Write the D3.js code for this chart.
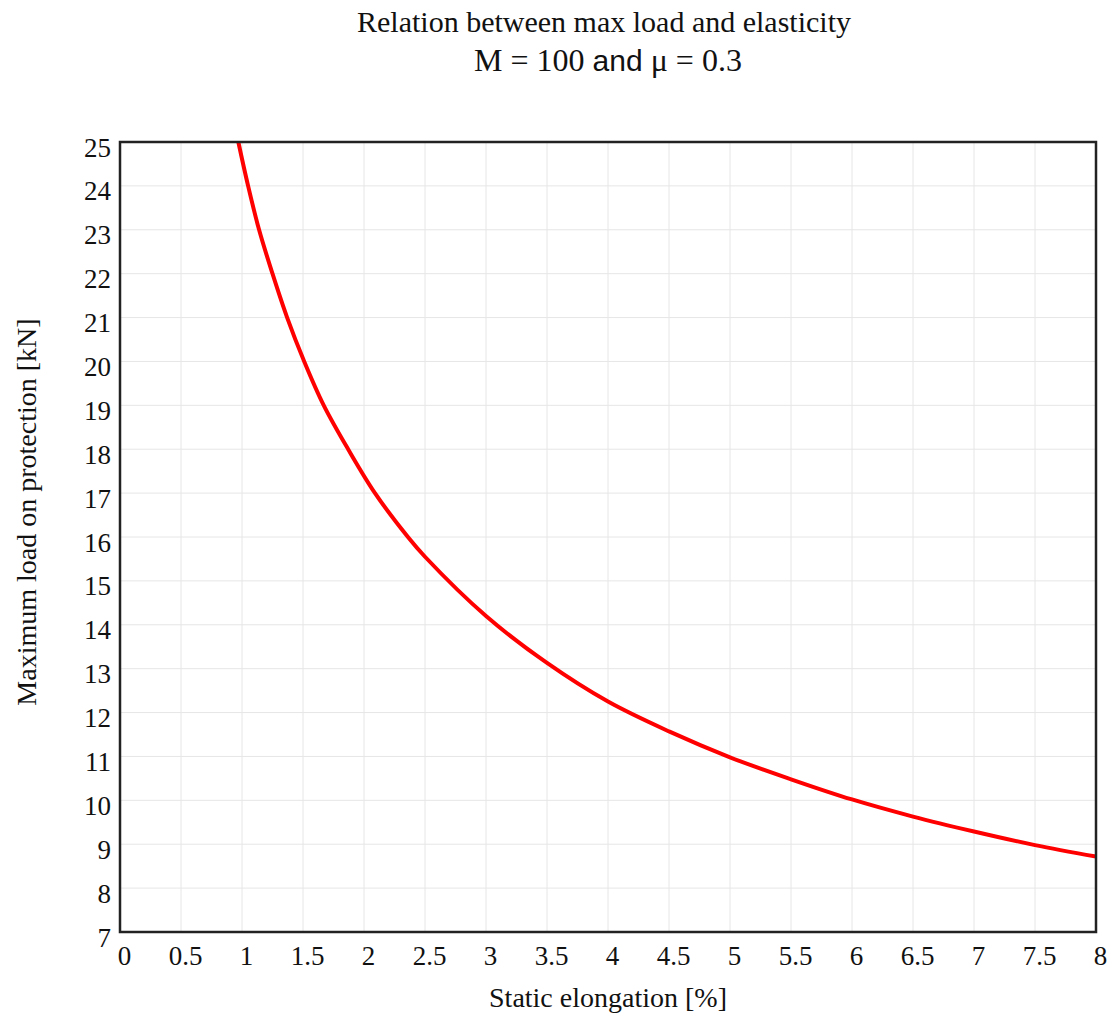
<!DOCTYPE html>
<html>
<head>
<meta charset="utf-8">
<script src="https://cdn.jsdelivr.net/npm/d3@7"></script>
<style>
  body { margin: 0; background: #fff; }
  svg { display: block; }
  .tick text { font-family: "Liberation Serif", "Times New Roman", serif; font-size: 27px; fill: #111; }
</style>
</head>
<body>
<svg id="chart"></svg>
<script>
(function () {
  const width = 1114;
  const height = 1013;

  // curve: static elongation [%] vs max load [kN]
  const elongation = [0.97, 1.05, 1.14, 1.25, 1.37, 1.51, 1.67, 1.87, 2.09, 2.36, 2.5, 3, 3.5, 4, 4.5, 5, 5.5, 6, 6.5, 7, 7.5, 8];
  const maxLoad = [25, 24, 23, 22, 21, 20, 19, 18, 17, 16, 15.55, 14.2, 13.13, 12.25, 11.57, 10.98, 10.48, 10.02, 9.63, 9.29, 8.98, 8.72];

  const xTicks = d3.range(0, 8.01, 0.5);
  const yTicks = d3.range(7, 26, 1);

  const titleLine1 = "Relation between max load and elasticity";
  const xLabel = "Static elongation [%]";
  const yLabel = "Maximum load on protection [kN]";

  const margin = { top: 142, right: 18, bottom: 81, left: 120 };
  const innerW = width - margin.left - margin.right;
  const innerH = height - margin.top - margin.bottom;

  const svg = d3.select("#chart")
    .attr("width", width)
    .attr("height", height);

  const x = d3.scaleLinear().domain([0, 8]).range([0, innerW]);
  const y = d3.scaleLinear().domain([7, 25]).range([innerH, 0]);

  const g = svg.append("g").attr("transform", `translate(${margin.left},${margin.top})`);

  // grid
  g.append("g")
    .selectAll("line")
    .data(xTicks)
    .join("line")
    .attr("x1", d => x(d)).attr("x2", d => x(d))
    .attr("y1", 0).attr("y2", innerH)
    .attr("stroke", "#e6e6e6").attr("stroke-width", 1);

  g.append("g")
    .selectAll("line")
    .data(yTicks)
    .join("line")
    .attr("x1", 0).attr("x2", innerW)
    .attr("y1", d => y(d)).attr("y2", d => y(d))
    .attr("stroke", "#e6e6e6").attr("stroke-width", 1);

  // axes (labels only)
  const xAxis = g.append("g")
    .attr("transform", `translate(0,${innerH})`)
    .call(d3.axisBottom(x).tickValues(xTicks).tickSize(0).tickPadding(14).tickFormat(d3.format("~g")));
  xAxis.select(".domain").remove();
  xAxis.selectAll("text").attr("dx", 4);

  const yAxis = g.append("g")
    .call(d3.axisLeft(y).tickValues(yTicks).tickSize(0).tickPadding(9).tickFormat(d3.format("d")));
  yAxis.select(".domain").remove();
  yAxis.selectAll("text").attr("dy", "0.52em");

  // curve
  const pts = elongation.map((e, i) => [e, maxLoad[i]]);
  const line = d3.line()
    .x(d => x(d[0]))
    .y(d => y(d[1]))
    .curve(d3.curveCatmullRom.alpha(0.5));

  g.append("path")
    .datum(pts)
    .attr("d", line)
    .attr("fill", "none")
    .attr("stroke", "#ff0000")
    .attr("stroke-width", 4);

  // frame
  g.append("rect")
    .attr("x", 0).attr("y", 0)
    .attr("width", innerW).attr("height", innerH)
    .attr("fill", "none")
    .attr("stroke", "#222")
    .attr("stroke-width", 2.5);

  // titles
  const serif = "'Liberation Serif', 'Times New Roman', serif";
  svg.append("text")
    .attr("x", 604).attr("y", 32)
    .attr("text-anchor", "middle")
    .style("font-family", serif)
    .style("font-size", "30px")
    .attr("fill", "#111")
    .text(titleLine1);

  const t2 = svg.append("text")
    .attr("x", 608).attr("y", 71)
    .attr("text-anchor", "middle")
    .style("font-family", serif)
    .style("font-size", "32px")
    .attr("fill", "#111");
  t2.append("tspan").text("M = 100 ");
  t2.append("tspan").style("font-family", "'Liberation Sans', Arial, sans-serif").style("font-size", "30px").text("and");
  t2.append("tspan").text(" \u03bc = 0.3");

  svg.append("text")
    .attr("x", margin.left + innerW / 2).attr("y", 1007)
    .attr("text-anchor", "middle")
    .style("font-family", serif)
    .style("font-size", "28px")
    .attr("fill", "#111")
    .text(xLabel);

  svg.append("text")
    .attr("transform", `translate(36,${512}) rotate(-90)`)
    .attr("text-anchor", "middle")
    .style("font-family", serif)
    .style("font-size", "28px")
    .attr("fill", "#111")
    .text(yLabel);
})();
</script>
</body>
</html>
